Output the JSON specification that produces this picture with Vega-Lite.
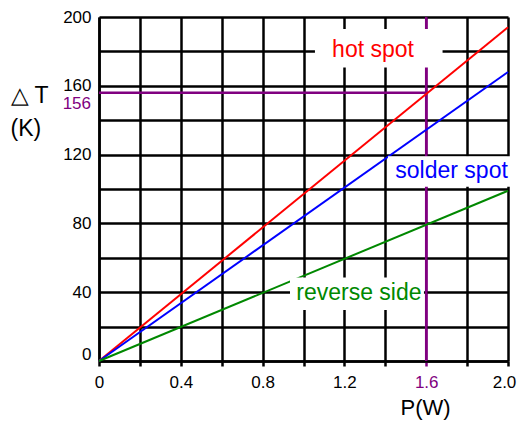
{
  "$schema": "https://vega.github.io/schema/vega-lite/v6.json",
  "width": 409,
  "height": 344,
  "autosize": {"type": "none"},
  "padding": {"left": 99, "top": 17, "right": 10, "bottom": 60},
  "config": {"view": {"stroke": null}, "font": "Liberation Sans"},
  "datasets": {
    "curves": [
      {"series": "hot spot", "P": 0, "dT": 0},
      {"series": "hot spot", "P": 2.0, "dT": 194},
      {"series": "solder spot", "P": 0, "dT": 0},
      {"series": "solder spot", "P": 2.0, "dT": 168},
      {"series": "reverse side", "P": 0, "dT": 0},
      {"series": "reverse side", "P": 2.0, "dT": 99}
    ],
    "rules": [
      {"P": 0, "P2": 1.6, "dT": 156, "dT2": 156},
      {"P": 1.6, "P2": 1.6, "dT": 0, "dT2": 200}
    ],
    "boxes": [
      {"series": "hot spot", "P": 1.056, "P2": 1.68, "dT": 170.6, "dT2": 193},
      {"series": "solder spot", "P": 1.413, "P2": 2.02, "dT": 101.3, "dT2": 119},
      {"series": "reverse side", "P": 0.934, "P2": 1.589, "dT": 29.7, "dT2": 48.5}
    ],
    "labels": [
      {"series": "hot spot", "P": 1.34, "dT": 181},
      {"series": "solder spot", "P": 1.724, "dT": 110.7},
      {"series": "reverse side", "P": 1.271, "dT": 39.6}
    ],
    "marker": [{"P": 0, "dT": 156, "text": "156"}]
  },
  "encoding": {
    "x": {
      "field": "P",
      "type": "quantitative",
      "scale": {"domain": [0, 2], "nice": false, "zero": false},
      "axis": {
        "values": [0, 0.2, 0.4, 0.6, 0.8, 1.0, 1.2, 1.4, 1.6, 1.8, 2.0],
        "labelExpr": "round(datum.value*10) % 4 == 0 ? (datum.value == 0 ? '0' : format(datum.value, '.1f')) : ''",
        "grid": true,
        "gridColor": {"condition": {"test": "abs(datum.value-1.6)<0.001", "value": "#800080"}, "value": "black"},
        "gridWidth": 2.5,
        "domainColor": "black",
        "domainWidth": 2.5,
        "tickColor": {"condition": {"test": "abs(datum.value-1.6)<0.001", "value": "#800080"}, "value": "black"},
        "tickWidth": 2.5,
        "tickSize": 5,
        "labelColor": {"condition": {"test": "abs(datum.value-1.6)<0.001", "value": "#800080"}, "value": "black"},
        "labelOffset": {"condition": {"test": "datum.value == 2", "value": -4}, "value": 0},
        "labelFontSize": 17,
        "labelPadding": 8,
        "labelFlush": false,
        "labelOverlap": false,
        "title": "P(W)",
        "titleFontSize": 22,
        "titleFontWeight": "normal",
        "titleColor": "black",
        "titleX": 326,
        "titleY": 46,
        "titleAlign": "center",
        "titleBaseline": "middle",
        "titleAnchor": null
      }
    },
    "y": {
      "field": "dT",
      "type": "quantitative",
      "scale": {"domain": [0, 200], "nice": false},
      "axis": {
        "values": [0, 20, 40, 60, 80, 100, 120, 140, 160, 180, 200],
        "labelExpr": "datum.value % 40 == 0 ? datum.label : ''",
        "grid": true,
        "gridColor": "black",
        "gridWidth": 2.5,
        "domainColor": "black",
        "domainWidth": 2.5,
        "ticks": false,
        "labelFontSize": 17,
        "labelPadding": 8,
        "labelColor": "black",
        "labelFlush": false,
        "labelOverlap": false,
        "labelOffset": {"condition": {"test": "datum.value == 0", "value": -7}, "value": 0},
        "title": ["△ T", "(K)"],
        "titleAngle": 0,
        "titleFontSize": 23,
        "titleFontWeight": "normal",
        "titleColor": "black",
        "titleAlign": "left",
        "titleBaseline": "top",
        "titleLineHeight": 33,
        "titleX": -89,
        "titleY": 67,
        "titleAnchor": null
      }
    }
  },
  "layer": [
    {
      "data": {"name": "rules"},
      "mark": {"type": "rule", "color": "#800080", "strokeWidth": 2.5},
      "encoding": {
        "x2": {"field": "P2"},
        "y2": {"field": "dT2"}
      }
    },
    {
      "data": {"name": "curves"},
      "mark": {"type": "line", "strokeWidth": 2},
      "encoding": {
        "color": {
          "field": "series",
          "type": "nominal",
          "scale": {"domain": ["hot spot", "solder spot", "reverse side"], "range": ["#ff0000", "#0000ff", "#008800"]},
          "legend": null
        }
      }
    },
    {
      "data": {"name": "boxes"},
      "mark": {"type": "rect", "fill": "white", "stroke": null},
      "encoding": {
        "x2": {"field": "P2"},
        "y2": {"field": "dT2"}
      }
    },
    {
      "data": {"name": "labels"},
      "mark": {"type": "text", "fontSize": 23, "align": "center", "baseline": "middle"},
      "encoding": {
        "text": {"field": "series"},
        "color": {
          "field": "series",
          "type": "nominal",
          "scale": {"domain": ["hot spot", "solder spot", "reverse side"], "range": ["#ff0000", "#0000ff", "#008800"]},
          "legend": null
        }
      }
    },
    {
      "data": {"name": "marker"},
      "mark": {"type": "text", "fontSize": 17, "align": "right", "baseline": "middle", "dx": -8, "dy": 11, "color": "#800080"},
      "encoding": {
        "text": {"field": "text"}
      }
    }
  ]
}
